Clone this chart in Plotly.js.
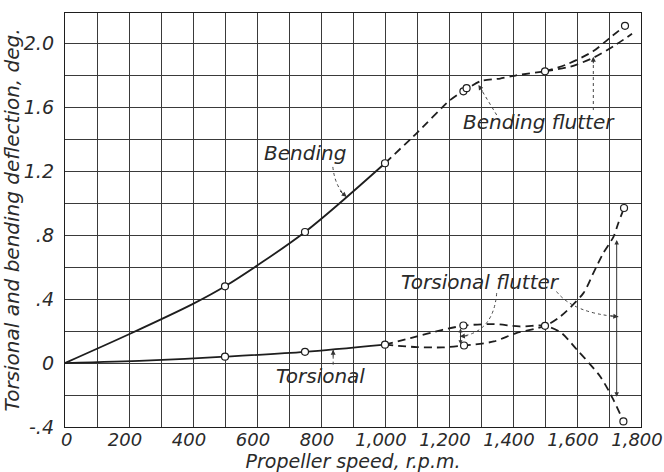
<!DOCTYPE html>
<html>
<head>
<meta charset="utf-8">
<script src="https://cdn.plot.ly/plotly-3.0.1.min.js"></script>
<style>html,body{margin:0;padding:0;background:#fff;}#chart{width:664px;height:472px;}</style>
</head>
<body>
<div id="chart"></div>
<script>
// ---- data ----
const xTickVals = [0, 200, 400, 600, 800, 1000, 1200, 1400, 1600, 1800];
const xTickText = ["\u20070", "200", "400", "600", "800", "1,000", "1,200", "1,400", "1,600", "1,800"];
const yTickVals = [-0.4, 0, 0.4, 0.8, 1.2, 1.6, 2.0];
const yTickText = ["-.4", "0", ".4", ".8", "1.2", "1.6", "2.0"];

// Bending deflection (solid, measured)
const bendX = [0, 200, 400, 500, 750, 1000];
const bendY = [0, 0.18, 0.37, 0.48, 0.82, 1.25];
// Bending flutter (dashed)
const bendFlutX = [1000, 1100, 1200, 1250, 1300, 1360, 1410, 1500];
const bendFlutY = [1.25, 1.44, 1.64, 1.71, 1.765, 1.78, 1.80, 1.825];
const bendUpX = [1500, 1570, 1650, 1700, 1750];
const bendUpY = [1.825, 1.87, 1.95, 2.03, 2.11];
const bendLowX = [1500, 1580, 1651, 1720, 1772];
const bendLowY = [1.825, 1.855, 1.91, 1.99, 2.06];
const bendPtsX = [500, 750, 1000, 1245, 1255, 1500, 1750];
const bendPtsY = [0.48, 0.82, 1.25, 1.70, 1.72, 1.825, 2.11];

// Torsional deflection (solid, measured)
const torsX = [0, 250, 500, 750, 1000];
const torsY = [0, 0.015, 0.04, 0.07, 0.115];
// Torsional flutter (dashed) branches
const torsUpX = [1000, 1080, 1180, 1250, 1340, 1420, 1500, 1550, 1600, 1672, 1714, 1745];
const torsUpY = [0.115, 0.156, 0.208, 0.235, 0.244, 0.229, 0.233, 0.19, 0.083, -0.083, -0.23, -0.365];
const torsLowX = [1000, 1100, 1180, 1250, 1340, 1410, 1500, 1547, 1620, 1651, 1682, 1714, 1729, 1747];
const torsLowY = [0.115, 0.10, 0.098, 0.11, 0.135, 0.1875, 0.233, 0.29, 0.4375, 0.5625, 0.6875, 0.79, 0.875, 0.97];
const torsPtsX = [500, 750, 1000, 1245, 1247, 1500, 1747, 1745];
const torsPtsY = [0.04, 0.07, 0.115, 0.235, 0.11, 0.233, 0.97, -0.365];

// ---- drawing ----
const INK = "#1e1e1e";
const FONT = {family: "DejaVu Sans", style: "italic", color: "#2a2a2a"};
const dashPat = "8px,5px";

function curve(x, y, dashed, smooth) {
  return {x: x, y: y, type: "scatter", mode: "lines", hoverinfo: "skip", showlegend: false,
    line: {color: INK, width: 1.8, shape: "spline", smoothing: smooth, dash: dashed ? dashPat : "solid"}};
}
function pts(x, y) {
  return {x: x, y: y, type: "scatter", mode: "markers", hoverinfo: "skip", showlegend: false,
    marker: {symbol: "circle", size: 7, color: "#ffffff", line: {color: INK, width: 1.2}}};
}

const traces = [
  curve(bendX, bendY, false, 0.8),
  curve(bendFlutX, bendFlutY, true, 0.4),
  curve(bendUpX, bendUpY, true, 0.8),
  curve(bendLowX, bendLowY, true, 0.8),
  curve(torsX, torsY, false, 0.8),
  curve(torsUpX, torsUpY, true, 0.8),
  curve(torsLowX, torsLowY, true, 0.8),
  pts(bendPtsX, bendPtsY),
  pts(torsPtsX, torsPtsY)
];

const dotLine = {color: "#444", width: 1, dash: "dot"};
const shapes = [
  {type: "path", xref: "x", yref: "y", path: "M 837,1.227 Q 844,1.10 880,1.04", line: dotLine},
  {type: "path", xref: "x", yref: "y", path: "M 1349,1.552 L 1292,1.74", line: dotLine},
  {type: "path", xref: "x", yref: "y", path: "M 1651,1.583 L 1651,1.916", line: dotLine},
  {type: "path", xref: "x", yref: "y", path: "M 1349,0.4375 Q 1339,0.19 1234,0.166", line: dotLine},
  {type: "path", xref: "x", yref: "y", path: "M 1536,0.4475 Q 1589,0.3125 1729,0.29", line: dotLine},
  {type: "path", xref: "x", yref: "y", path: "M 838,-0.01 L 838,0.083", line: dotLine}
];

function head(x, y, ax, ay) {
  return {x: x, y: y, xref: "x", yref: "y", ax: ax, ay: ay, text: "", showarrow: true,
    arrowhead: 2, arrowsize: 1, arrowwidth: 1, arrowcolor: "#333"};
}
function label(x, y, t) {
  return {x: x, y: y, xref: "x", yref: "y", text: t, showarrow: false,
    font: Object.assign({}, FONT, {size: 20})};
}
const annotations = [
  label(750, 1.3125, "Bending"),
  label(1481, 1.51, "Bending flutter"),
  label(1297, 0.51, "Torsional flutter"),
  label(797, -0.079, "Torsional"),
  head(880, 1.04, -8, -7),
  head(1292, 1.74, 5, 8),
  head(1651, 1.916, 0, 8),
  head(1234, 0.166, 9, -1),
  head(1729, 0.29, -9, -1),
  head(838, 0.083, 0, 8),
  {x: 1236, y: 0.118, xref: "x", yref: "y", axref: "x", ayref: "y", ax: 1236, ay: 0.226, text: "",
    showarrow: true, arrowhead: 2, startarrowhead: 2, arrowside: "end+start", arrowsize: 0.8, arrowwidth: 1, arrowcolor: "#333"},
  {x: 1724, y: -0.21, xref: "x", yref: "y", axref: "x", ayref: "y", ax: 1724, ay: 0.78, text: "",
    showarrow: true, arrowhead: 2, startarrowhead: 2, arrowside: "end+start", arrowsize: 0.9, arrowwidth: 1, arrowcolor: "#333"}
];

const layout = {
  width: 664, height: 472,
  margin: {l: 65, r: 23, t: 13, b: 45, pad: 0},
  paper_bgcolor: "#ffffff", plot_bgcolor: "#ffffff",
  font: Object.assign({}, FONT, {size: 18}),
  showlegend: false,
  xaxis: {
    range: [0, 1800], tickvals: xTickVals, ticktext: xTickText,
    showgrid: true, gridcolor: "#3a3a3a", gridwidth: 1,
    minor: {dtick: 100, tick0: 0, showgrid: true, gridcolor: "#3a3a3a", gridwidth: 1},
    zeroline: false, showline: true, mirror: true, linecolor: INK, linewidth: 1.2,
    ticks: "", ticklabelstandoff: -4, ticklabelshift: -4, ticklabeloverflow: "allow",
    tickfont: Object.assign({}, FONT, {size: 18}),
    title: {text: "Propeller speed, r.p.m.", font: Object.assign({}, FONT, {size: 19}), standoff: 10}
  },
  yaxis: {
    range: [-0.4, 2.19], tickvals: yTickVals, ticktext: yTickText,
    showgrid: true, gridcolor: "#3a3a3a", gridwidth: 1,
    minor: {dtick: 0.2, tick0: 0, showgrid: true, gridcolor: "#3a3a3a", gridwidth: 1},
    zeroline: false, showline: true, mirror: true, linecolor: INK, linewidth: 1.2,
    ticks: "", ticklabelstandoff: 6, ticklabeloverflow: "allow", tickfont: Object.assign({}, FONT, {size: 19}),
    title: {text: "Torsional and bending deflection, deg.", font: Object.assign({}, FONT, {size: 20}), standoff: 2}
  },
  shapes: shapes,
  annotations: annotations
};

Plotly.newPlot("chart", traces, layout, {staticPlot: true, displayModeBar: false});
</script>
</body>
</html>
